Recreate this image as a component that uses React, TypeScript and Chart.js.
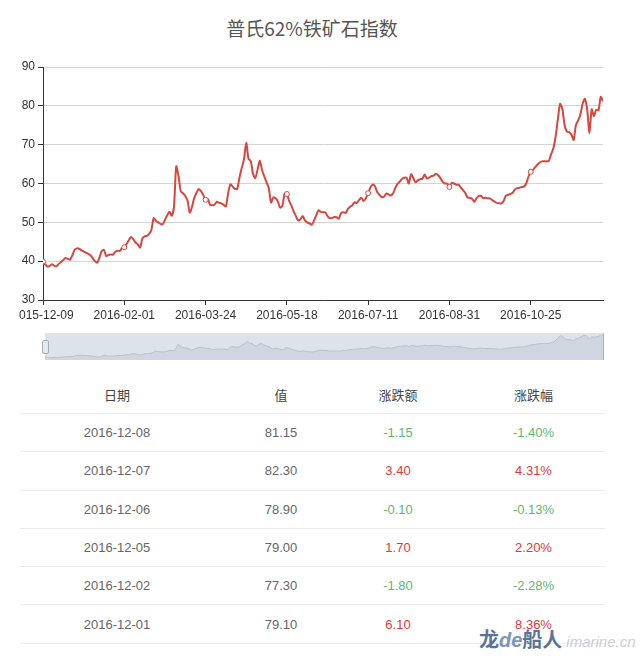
import React, { useEffect, useRef } from "react";
import { Chart, registerables } from "chart.js";

Chart.register(...registerables);

const TITLE = "普氏62%铁矿石指数";
const TICK_LABELS = ["2015-12-09", "2016-02-01", "2016-03-24", "2016-05-18", "2016-07-11", "2016-08-31", "2016-10-25"];
const TICK_EVERY = 36;
const Y_TICKS = [30, 40, 50, 60, 70, 80, 90];

const VALUES = [
  39.9, 39.2, 38.6, 38.8, 39.2, 38.8, 38.7, 39.3, 39.8, 40.3,
  40.8, 40.6, 40.4, 41.5, 42.9, 43.3, 43.2, 42.8, 42.5, 42.2,
  41.9, 41.5, 40.8, 40.0, 39.6, 40.9, 42.6, 42.9, 41.3, 41.6,
  41.7, 41.7, 42.4, 42.7, 42.6, 43.4, 43.6, 44.4,
  45.4, 46.2, 45.6, 44.8, 44.3, 43.5, 45.8, 46.4, 46.5, 47.0,
  48.0, 51.1, 50.4, 50.0, 49.6, 49.5, 50.6, 51.8, 52.7, 51.7,
  54.0, 64.4, 62.0, 58.0, 57.5, 56.8, 55.6, 52.5, 54.0, 56.3,
  57.6, 58.6, 58.0, 57.0, 55.8, 56.0, 54.5, 54.4,
  54.6, 55.3, 55.0, 54.9, 54.5, 54.1, 57.5, 59.8, 59.2, 58.6,
  58.6, 61.5, 64.0, 66.2, 70.5, 66.4, 65.8, 62.5, 61.4, 63.5,
  65.9, 63.5, 61.8, 60.3, 58.8, 55.1, 56.4, 56.2, 55.4, 53.8,
  54.2, 57.4, 57.3, 55.5, 54.3, 52.8, 51.6, 50.5,
  50.8, 51.6, 50.5, 50.0, 49.7, 49.4, 50.4, 51.8, 53.1, 52.7,
  52.6, 52.6, 51.6, 51.1, 51.1, 51.4, 51.3, 50.9, 52.4, 52.6,
  52.4, 53.4, 54.0, 54.4, 55.2, 55.0, 55.8, 56.3, 55.5, 56.2,
  57.5, 59.0, 59.7, 59.3, 57.8, 57.1, 56.5,
  56.6, 57.4, 57.2, 56.9, 57.4, 58.8, 59.9, 60.5, 61.2, 61.5,
  61.5, 60.0, 62.4, 61.4, 60.3, 60.8, 61.1, 61.2, 62.3, 61.3,
  61.5, 61.9, 62.0, 62.5, 62.1, 61.4, 60.4, 60.0, 60.0, 59.1,
  60.2, 60.0, 59.7, 59.7, 59.0, 58.3, 57.6, 56.4,
  56.3, 56.1, 55.3, 56.2, 56.8, 56.8, 56.2, 56.3, 56.2, 56.1,
  55.7, 55.3, 55.0, 54.9, 54.9, 55.5, 56.9, 57.1, 57.3, 57.6,
  58.5, 58.8, 58.9, 59.1, 59.2, 60.0, 61.8, 63.0, 63.5, 64.2,
  64.9, 65.4, 65.7, 65.7, 65.7, 65.8, 67.5, 69.0, 72.0, 76.5,
  80.5, 79.2, 75.0, 73.4, 73.2, 72.6, 71.2, 75.0, 76.2, 77.8,
  80.6, 81.8, 79.0,
  73.0, 79.1, 77.3, 79.0, 78.9, 82.3, 81.15,
];

const TABLE_HEADERS = ["日期", "值", "涨跌额", "涨跌幅"];
const TABLE_DATES = ["2016-12-08", "2016-12-07", "2016-12-06", "2016-12-05", "2016-12-02", "2016-12-01"];
const TABLE_VALUES = ["81.15", "82.30", "78.90", "79.00", "77.30", "79.10"];
const TABLE_CHANGES = ["-1.15", "3.40", "-0.10", "1.70", "-1.80", "6.10"];
const TABLE_PCTS = ["-1.40%", "4.31%", "-0.13%", "2.20%", "-2.28%", "8.36%"];

const LINE_COLOR = "#d9463e";
const UP_COLOR = "#e2363c";
const DOWN_COLOR = "#5cb871";

export default function App() {
  const mainRef = useRef<HTMLCanvasElement | null>(null);
  const sliderRef = useRef<HTMLCanvasElement | null>(null);

  useEffect(() => {
    const points = VALUES.map((v, i) => ({ x: i, y: v }));
    const main = new Chart(mainRef.current as HTMLCanvasElement, {
      type: "line",
      data: {
        datasets: [
          {
            data: points,
            borderColor: LINE_COLOR,
            borderWidth: 2,
            tension: 0.25,
            pointRadius: (ctx: any) => (ctx.dataIndex % TICK_EVERY === 0 ? 2.5 : 0),
            pointBackgroundColor: "#fff",
            pointBorderColor: LINE_COLOR,
            pointBorderWidth: 1,
            fill: false,
          },
        ],
      },
      options: {
        responsive: false,
        animation: false,
        events: [],
        layout: { padding: { top: 67, left: 0, right: 37, bottom: 0 } },
        plugins: { legend: { display: false }, tooltip: { enabled: false }, title: { display: false } },
        scales: {
          x: {
            type: "linear",
            min: 0,
            max: VALUES.length - 1,
            afterBuildTicks: (s: any) => {
              s.ticks = TICK_LABELS.map((_, k) => ({ value: k * TICK_EVERY }));
            },
            afterFit: (s: any) => {
              s.height = 30;
            },
            grid: { drawOnChartArea: false, drawTicks: true, tickLength: 5, tickColor: "#333" },
            border: { color: "#333", width: 1 },
            ticks: {
              autoSkip: false,
              maxRotation: 0,
              padding: 3,
              color: "#333",
              font: { family: "'Liberation Sans', Arial, sans-serif", size: 12 },
              callback: (v: any) => {
                const k = Math.round(Number(v) / TICK_EVERY);
                return Number(v) % TICK_EVERY === 0 && TICK_LABELS[k] ? TICK_LABELS[k] : "";
              },
            },
          },
          y: {
            type: "linear",
            min: 30,
            max: 90,
            afterBuildTicks: (s: any) => {
              s.ticks = Y_TICKS.map((v) => ({ value: v }));
            },
            afterFit: (s: any) => {
              s.width = 43;
            },
            grid: { color: "#d4d4d4", tickColor: "#333", tickLength: 5, lineWidth: 1 },
            border: { color: "#333", width: 1 },
            ticks: {
              padding: 3,
              color: "#333",
              font: { family: "'Liberation Sans', Arial, sans-serif", size: 12 },
            },
          },
        },
      },
    } as any);

    const slider = new Chart(sliderRef.current as HTMLCanvasElement, {
      type: "line",
      data: {
        datasets: [
          {
            data: points,
            borderColor: "#b9c0ca",
            borderWidth: 1,
            backgroundColor: "rgba(180,189,202,0.35)",
            pointRadius: 0,
            tension: 0,
            fill: "start",
          },
        ],
      },
      options: {
        responsive: false,
        animation: false,
        events: [],
        layout: { padding: 0 },
        plugins: { legend: { display: false }, tooltip: { enabled: false } },
        scales: {
          x: { type: "linear", display: false, min: 0, max: VALUES.length - 1 },
          y: { type: "linear", display: false, min: 34, max: 86 },
        },
      },
    } as any);

    return () => {
      main.destroy();
      slider.destroy();
    };
  }, []);

  const cjk = "'Noto Sans CJK SC', 'Noto Sans', sans-serif";
  const latin = "'Liberation Sans', Arial, sans-serif";
  const colWidths = [194, 134, 100, 157];
  const cell = (extra: any = {}) => ({
    height: 37,
    padding: 0,
    textAlign: "center" as const,
    borderBottom: "1px solid #ececec",
    fontSize: 13,
    verticalAlign: "middle" as const,
    ...extra,
  });
  const colColor = (s: string) => (s.startsWith("-") ? DOWN_COLOR : UP_COLOR);

  return (
    <div style={{ position: "absolute", left: 0, top: 0, width: 640, height: 656, background: "#fff", overflow: "hidden" }}>
      <div
        style={{
          position: "absolute",
          left: 0,
          top: 14,
          width: 624,
          textAlign: "center",
          fontFamily: cjk,
          fontSize: 19,
          color: "#555",
          lineHeight: "28px",
        }}
      >
        {TITLE}
      </div>
      <canvas ref={mainRef} width={640} height={330} style={{ position: "absolute", left: 0, top: 0, display: "block" }} />
      <div style={{ position: "absolute", left: 0, top: 304, width: 19, height: 18, background: "#fff" }} />
      <div
        style={{
          position: "absolute",
          left: 45,
          top: 333,
          width: 558,
          height: 27,
          background: "#dde3ea",
          borderRight: "1px solid #a9b3c0",
        }}
      >
        <canvas ref={sliderRef} width={558} height={27} style={{ display: "block" }} />
      </div>
      <div
        style={{
          position: "absolute",
          left: 42,
          top: 340,
          width: 5,
          height: 12,
          background: "#e4e9ef",
          border: "1px solid #a3adba",
          borderRadius: 2,
        }}
      />
      <table
        style={{
          position: "absolute",
          left: 20,
          top: 376,
          width: 585,
          borderCollapse: "collapse",
          tableLayout: "fixed",
          fontFamily: latin,
        }}
      >
        <colgroup>
          {colWidths.map((w, i) => (
            <col key={i} style={{ width: w }} />
          ))}
        </colgroup>
        <thead>
          <tr>
            {TABLE_HEADERS.map((h, i) => (
              <th
                key={i}
                style={cell({
                  fontFamily: cjk,
                  fontWeight: "normal",
                  color: "#444",
                  paddingLeft: i === 3 ? 14 : 0,
                })}
              >
                {h}
              </th>
            ))}
          </tr>
        </thead>
        <tbody>
          {TABLE_DATES.map((d, r) => (
            <tr key={r}>
              <td style={cell({ color: "#666", height: 37.3 })}>{d}</td>
              <td style={cell({ color: "#666", height: 37.3 })}>{TABLE_VALUES[r]}</td>
              <td style={cell({ color: colColor(TABLE_CHANGES[r]), height: 37.3 })}>{TABLE_CHANGES[r]}</td>
              <td style={cell({ color: colColor(TABLE_PCTS[r]), paddingLeft: 14, height: 37.3 })}>{TABLE_PCTS[r]}</td>
            </tr>
          ))}
        </tbody>
      </table>
      <div
        style={{
          position: "absolute",
          left: 479,
          top: 627,
          fontFamily: cjk,
          fontSize: 20,
          fontWeight: "bold",
          color: "#5a7398",
          whiteSpace: "nowrap",
          lineHeight: "24px",
        }}
      >
        龙<span style={{ fontFamily: latin, fontStyle: "italic", color: "#7c95bb" }}>de</span>船人
        <span style={{ fontFamily: latin, fontSize: 15, fontWeight: "normal", fontStyle: "italic", color: "#c9ced6", marginLeft: 4 }}>
          imarine.cn
        </span>
      </div>
    </div>
  );
}
